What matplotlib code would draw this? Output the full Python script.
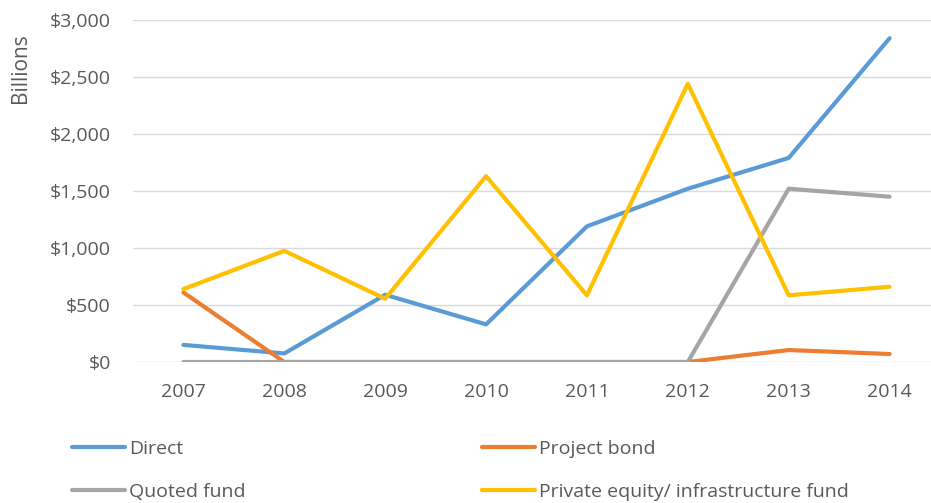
import matplotlib
matplotlib.use("Agg")
import matplotlib.pyplot as plt
from matplotlib.ticker import FuncFormatter

plt.rcParams['font.family'] = ['Open Sans', 'DejaVu Sans']

years = ["2007", "2008", "2009", "2010", "2011", "2012", "2013", "2014"]
direct = [150, 75, 590, 330, 1190, 1520, 1790, 2840]
project_bond = [610, 0, 0, 0, 0, 0, 105, 70]
quoted_fund = [0, 0, 0, 0, 0, 0, 1520, 1450]
private_equity = [640, 975, 555, 1630, 585, 2440, 585, 660]

series = [
    ("Direct", direct, "#5B9BD5"),
    ("Project bond", project_bond, "#ED7D31"),
    ("Quoted fund", quoted_fund, "#A5A5A5"),
    ("Private equity/ infrastructure fund", private_equity, "#FFC000"),
]

fig = plt.figure(figsize=(9.31, 5.03), dpi=100)
ax = fig.add_axes([133/931, 1-362/503, (940-133)/931, (362-20)/503])

x = list(range(len(years)))
lines = {}
for name, vals, col in series:
    ln, = ax.plot(x, vals, color=col, lw=3.0, solid_capstyle='round', label=name, zorder=3)
    lines[name] = ln

ax.set_xlim(-0.5, len(years) - 0.5)
ax.set_ylim(0, 3000)
ax.set_yticks(range(0, 3001, 500))
ax.yaxis.set_major_formatter(FuncFormatter(lambda v, p: "${:,.0f}".format(v)))
ax.set_xticks(x)
ax.set_xticklabels(years)
ax.grid(axis='y', color='#D9D9D9', lw=1)
ax.set_axisbelow(True)
for s in ax.spines.values():
    s.set_visible(False)
ax.tick_params(axis='both', length=0, labelsize=14, colors='#595959')
ax.tick_params(axis='x', pad=15)
ax.tick_params(axis='y', pad=16)

fig.text(20/931, 1-68/503, "Billions", rotation=90, ha='center', va='center',
         fontsize=15, color='#595959')

leg_kw = dict(frameon=False, fontsize=14, handlelength=2.7, handletextpad=0.25,
              labelspacing=1.3, borderaxespad=0, borderpad=0, labelcolor='#595959')
l1 = fig.legend([lines["Direct"], lines["Quoted fund"]], ["Direct", "Quoted fund"],
                loc='upper left', bbox_to_anchor=(72/931, 1-440/503), **leg_kw)
l2 = fig.legend([lines["Project bond"], lines["Private equity/ infrastructure fund"]],
                ["Project bond", "Private equity/ infrastructure fund"],
                loc='upper left', bbox_to_anchor=(482/931, 1-440/503), **leg_kw)

fig.savefig("out.png", dpi=100)
